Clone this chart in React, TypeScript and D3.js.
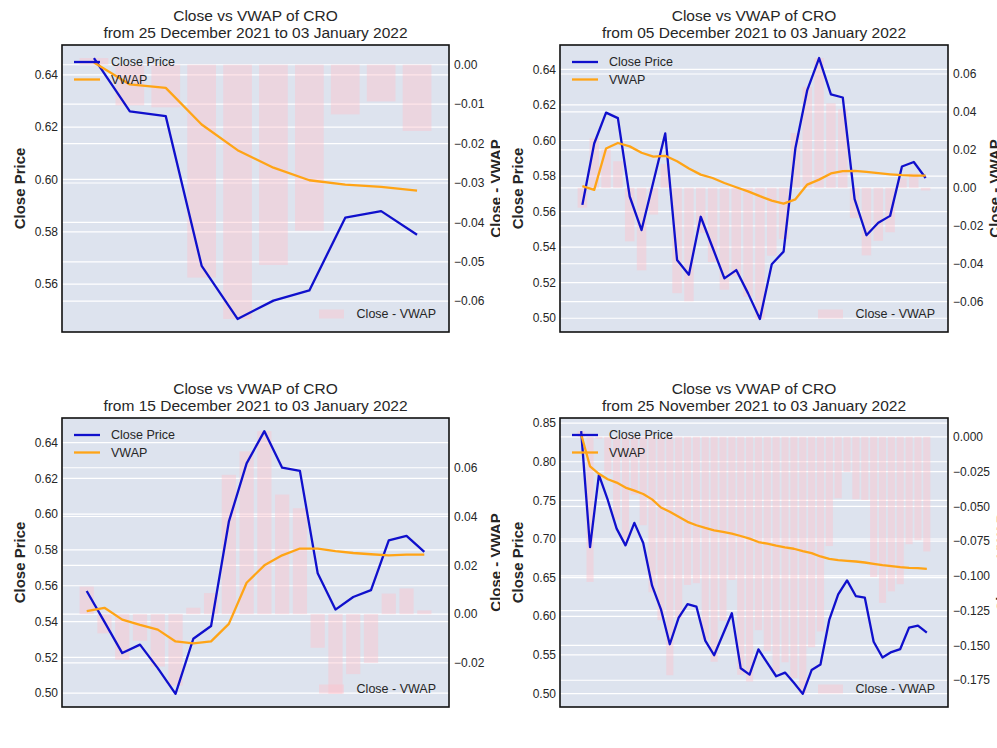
import * as d3 from "d3";

// CRO daily close, 25 Nov 2021 .. 03 Jan 2022 (40 days); each panel uses the last N days
const closePrice = [
  0.8396, 0.6896, 0.7831, 0.7505, 0.7134, 0.6918, 0.7209, 0.6948, 0.6396, 0.609,
  0.5638, 0.5983, 0.6157, 0.6126, 0.5685, 0.5496, 0.5768, 0.604, 0.5328, 0.5245,
  0.5571, 0.5398, 0.5224, 0.5271, 0.514, 0.4996, 0.5304, 0.5375, 0.5958, 0.6284,
  0.6464, 0.626, 0.6242, 0.567, 0.5467, 0.5537, 0.5576, 0.5854, 0.5879, 0.5789,
];

// cumulative VWAP from the start of each period
const vwap10 = [0.6447, 0.6363, 0.635, 0.621, 0.6112, 0.6045, 0.5997, 0.598, 0.5972, 0.5957];
const vwap30 = [
  0.5743, 0.5722, 0.5955, 0.5986, 0.5967, 0.5931, 0.5909, 0.5914, 0.5883, 0.5843,
  0.5808, 0.5789, 0.5761, 0.5737, 0.5714, 0.5687, 0.5662, 0.5645, 0.5669, 0.5752,
  0.578, 0.5815, 0.5828, 0.5829, 0.5823, 0.5816, 0.581, 0.5805, 0.5803, 0.5803,
];
const vwap20 = [
  0.5458, 0.5477, 0.5411, 0.5381, 0.5355, 0.5289, 0.5278, 0.5289, 0.5387, 0.5617,
  0.5714, 0.577, 0.5808, 0.5808, 0.5794, 0.5783, 0.5776, 0.577, 0.5774, 0.5774,
];
const vwap40 = [
  0.8355, 0.7939, 0.7844, 0.7774, 0.773, 0.7665, 0.7626, 0.7583, 0.7513, 0.7408,
  0.7352, 0.7287, 0.7222, 0.7178, 0.7144, 0.7113, 0.7091, 0.7069, 0.7039, 0.7004,
  0.6961, 0.6939, 0.6913, 0.6892, 0.6874, 0.6844, 0.6817, 0.6774, 0.6743, 0.6726,
  0.6717, 0.6709, 0.6696, 0.6678, 0.6661, 0.6648, 0.6635, 0.6626, 0.6622, 0.6613,
];

const periodStarts = ["25 December 2021", "05 December 2021", "15 December 2021", "25 November 2021"];
const periodEnd = "03 January 2022";

const leftTicks10 = [0.56, 0.58, 0.6, 0.62, 0.64];
const rightTicks10 = [0, -0.01, -0.02, -0.03, -0.04, -0.05, -0.06];
const leftTicks30 = [0.5, 0.52, 0.54, 0.56, 0.58, 0.6, 0.62, 0.64];
const rightTicks30 = [-0.06, -0.04, -0.02, 0, 0.02, 0.04, 0.06];
const leftTicks20 = [0.5, 0.52, 0.54, 0.56, 0.58, 0.6, 0.62, 0.64];
const rightTicks20 = [-0.02, 0, 0.02, 0.04, 0.06];
const leftTicks40 = [0.5, 0.55, 0.6, 0.65, 0.7, 0.75, 0.8, 0.85];
const rightTicks40 = [0, -0.025, -0.05, -0.075, -0.1, -0.125, -0.15, -0.175];

const FONT = "'Liberation Sans', Arial, Helvetica, sans-serif";
const BG = "#dde3ee";
const TEXT = "#262626";
const BLUE = "#1010cc";
const ORANGE = "#ffa416";
const PINK = "#ffc0cb";

type Box = { left: number; right: number; top: number; bottom: number };

const boxes: Box[] = [
  { left: 62, right: 449, top: 45, bottom: 332 },
  { left: 560, right: 948, top: 45, bottom: 332 },
  { left: 62, right: 449, top: 418, bottom: 707 },
  { left: 560, right: 948, top: 418, bottom: 707 },
];

function padded(values: number[]): [number, number] {
  const [lo, hi] = d3.extent(values) as [number, number];
  const m = (hi - lo) * 0.05;
  return [lo - m, hi + m];
}

function fmt(v: number, digits: number) {
  const s = Math.abs(v).toFixed(digits);
  return v < -1e-9 ? "\u2212" + s : s;
}

function Panel({
  id,
  box,
  start,
  close,
  vwap,
  leftTicks,
  rightTicks,
  rightDigits,
  clipRight,
}: {
  id: string;
  box: Box;
  start: string;
  close: number[];
  vwap: number[];
  leftTicks: number[];
  rightTicks: number[];
  rightDigits: number;
  clipRight: number;
}) {
  const n = close.length;
  const span = n - 1 + 0.8;
  const x = d3
    .scaleLinear()
    .domain([-0.4 - 0.05 * span, n - 1 + 0.4 + 0.05 * span])
    .range([box.left, box.right]);
  const diff = close.map((c, i) => c - vwap[i]);
  const yL = d3.scaleLinear().domain(padded([...close, ...vwap])).range([box.bottom, box.top]);
  const yR = d3.scaleLinear().domain(padded([0, ...diff])).range([box.bottom, box.top]);
  const line = d3
    .line<number>()
    .x((_, i) => x(i))
    .y((d) => yL(d));
  const bw = x(0.8) - x(0);
  const cx = (box.left + box.right) / 2;
  const cy = (box.top + box.bottom) / 2;
  const tickW = 12 * (0.584 + 0.278 + 0.556 * (rightDigits + 1));
  const rLabelX = box.right + 5 + tickW + 6 + 10.7;
  const legTextEnd = box.right - 13;
  const legTextStart = legTextEnd - 80;

  return (
    <g>
      <defs>
        <clipPath id={`plot-${id}`}>
          <rect x={box.left} y={box.top} width={box.right - box.left} height={box.bottom - box.top} />
        </clipPath>
        <clipPath id={`side-${id}`}>
          <rect x={0} y={0} width={clipRight} height={748} />
        </clipPath>
      </defs>
      <text x={cx} y={box.top - 24} textAnchor="middle" fontSize={15.5} fill={TEXT}>
        Close vs VWAP of CRO
      </text>
      <text x={cx} y={box.top - 7.5} textAnchor="middle" fontSize={15.5} fill={TEXT}>
        from {start} to {periodEnd}
      </text>
      <rect x={box.left} y={box.top} width={box.right - box.left} height={box.bottom - box.top} fill={BG} />
      <g clipPath={`url(#plot-${id})`}>
        {leftTicks.map((t) => (
          <line key={`l${t}`} x1={box.left} x2={box.right} y1={yL(t)} y2={yL(t)} stroke="#fff" strokeWidth={1.2} />
        ))}
        {rightTicks.map((t) => (
          <line key={`r${t}`} x1={box.left} x2={box.right} y1={yR(t)} y2={yR(t)} stroke="#fff" strokeWidth={1.2} />
        ))}
        {diff.map((d, i) => (
          <rect
            key={i}
            x={x(i) - bw / 2}
            width={bw}
            y={Math.min(yR(d), yR(0))}
            height={Math.abs(yR(d) - yR(0))}
            fill={PINK}
            opacity={0.42}
          />
        ))}
        <path d={line(close) ?? ""} fill="none" stroke={BLUE} strokeWidth={2.3} strokeLinejoin="round" />
        <path d={line(vwap) ?? ""} fill="none" stroke={ORANGE} strokeWidth={2.3} strokeLinejoin="round" />
      </g>
      <rect
        x={box.left}
        y={box.top}
        width={box.right - box.left}
        height={box.bottom - box.top}
        fill="none"
        stroke="#111"
        strokeWidth={1.6}
      />
      {leftTicks.map((t) => (
        <text key={`lt${t}`} x={box.left - 4} y={yL(t)} dy="0.35em" textAnchor="end" fontSize={12} fill={TEXT}>
          {fmt(t, 2)}
        </text>
      ))}
      {rightTicks.map((t) => (
        <text key={`rt${t}`} x={box.right + 5} y={yR(t)} dy="0.35em" fontSize={12} fill={TEXT}>
          {fmt(t, rightDigits)}
        </text>
      ))}
      <text
        transform={`translate(${box.left - 37},${cy}) rotate(-90)`}
        textAnchor="middle"
        fontSize={15}
        fontWeight="bold"
        fill={TEXT}
      >
        Close Price
      </text>
      <g clipPath={`url(#side-${id})`}>
        <text
          transform={`translate(${rLabelX},${cy}) rotate(-90)`}
          textAnchor="middle"
          fontSize={15}
          fontWeight="bold"
          fill={TEXT}
        >
          Close - VWAP
        </text>
      </g>
      {/* upper-left legend */}
      <line x1={box.left + 12} x2={box.left + 38} y1={box.top + 17} y2={box.top + 17} stroke={BLUE} strokeWidth={2.3} />
      <text x={box.left + 49} y={box.top + 17} dy="0.35em" fontSize={12.5} fill={TEXT}>
        Close Price
      </text>
      <line x1={box.left + 12} x2={box.left + 38} y1={box.top + 34.5} y2={box.top + 34.5} stroke={ORANGE} strokeWidth={2.3} />
      <text x={box.left + 49} y={box.top + 34.5} dy="0.35em" fontSize={12.5} fill={TEXT}>
        VWAP
      </text>
      {/* lower-right legend */}
      <rect x={legTextStart - 37} y={box.bottom - 22.5} width={25} height={9} fill={PINK} opacity={0.42} />
      <text x={legTextEnd} y={box.bottom - 18} dy="0.35em" textAnchor="end" fontSize={12.5} fill={TEXT}>
        Close - VWAP
      </text>
    </g>
  );
}

export default function App() {
  return (
    <>
      <style>{`body{margin:0;background:#fff}`}</style>
      <svg width={997} height={748} viewBox="0 0 997 748" fontFamily={FONT} style={{ display: "block" }}>
        <rect width={997} height={748} fill="#fff" />
        <Panel
          id="p10"
          box={boxes[0]}
          start={periodStarts[0]}
          close={closePrice.slice(-10)}
          vwap={vwap10}
          leftTicks={leftTicks10}
          rightTicks={rightTicks10}
          rightDigits={2}
          clipRight={500}
        />
        <Panel
          id="p30"
          box={boxes[1]}
          start={periodStarts[1]}
          close={closePrice.slice(-30)}
          vwap={vwap30}
          leftTicks={leftTicks30}
          rightTicks={rightTicks30}
          rightDigits={2}
          clipRight={997}
        />
        <Panel
          id="p20"
          box={boxes[2]}
          start={periodStarts[2]}
          close={closePrice.slice(-20)}
          vwap={vwap20}
          leftTicks={leftTicks20}
          rightTicks={rightTicks20}
          rightDigits={2}
          clipRight={500}
        />
        <Panel
          id="p40"
          box={boxes[3]}
          start={periodStarts[3]}
          close={closePrice}
          vwap={vwap40}
          leftTicks={leftTicks40}
          rightTicks={rightTicks40}
          rightDigits={3}
          clipRight={997}
        />
      </svg>
    </>
  );
}
